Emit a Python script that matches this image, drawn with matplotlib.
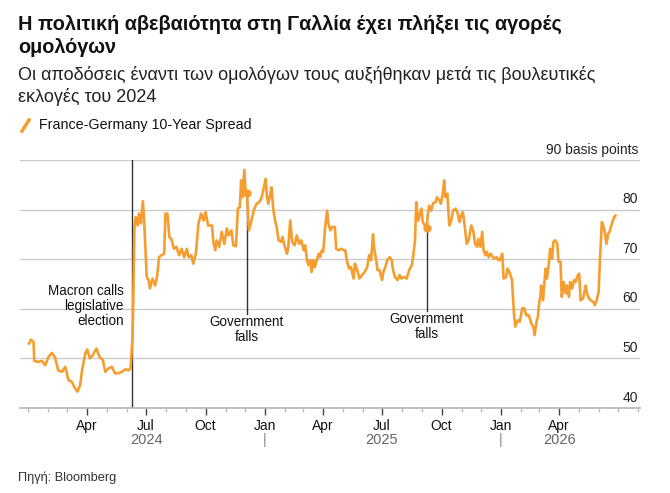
import numpy as np
import pandas as pd
import matplotlib
matplotlib.use('Agg')
import matplotlib.pyplot as plt
import matplotlib.dates as mdates
from matplotlib.lines import Line2D

plt.rcParams['font.family'] = ['Liberation Sans', 'DejaVu Sans']

# France-Germany 10-year spread, basis points
dates = [
    '2024-01-02', '2024-01-05', '2024-01-09', '2024-01-10', '2024-01-16', '2024-01-22', '2024-01-27',
    '2024-02-01', '2024-02-06', '2024-02-11', '2024-02-16', '2024-02-22', '2024-02-27',
    '2024-03-03', '2024-03-08', '2024-03-13', '2024-03-17', '2024-03-21', '2024-03-24', '2024-03-29',
    '2024-04-01', '2024-04-05', '2024-04-10', '2024-04-15', '2024-04-20', '2024-04-25', '2024-04-29',
    '2024-05-04', '2024-05-09', '2024-05-14', '2024-05-19', '2024-05-25', '2024-05-30',
    '2024-06-04', '2024-06-07', '2024-06-10', '2024-06-11', '2024-06-12', '2024-06-13', '2024-06-15',
    '2024-06-18', '2024-06-20', '2024-06-23', '2024-06-26', '2024-06-28',
    '2024-07-02', '2024-07-05', '2024-07-07', '2024-07-11', '2024-07-15', '2024-07-18', '2024-07-21',
    '2024-07-25', '2024-07-29', '2024-07-31',
    '2024-08-03', '2024-08-06', '2024-08-09', '2024-08-13', '2024-08-17', '2024-08-21', '2024-08-25',
    '2024-08-29',
    '2024-09-02', '2024-09-05', '2024-09-09', '2024-09-12', '2024-09-16', '2024-09-20', '2024-09-24',
    '2024-09-28',
    '2024-10-01', '2024-10-05', '2024-10-11', '2024-10-13', '2024-10-16', '2024-10-18', '2024-10-22',
    '2024-10-26', '2024-10-30',
    '2024-11-03', '2024-11-06', '2024-11-10', '2024-11-13', '2024-11-17', '2024-11-20', '2024-11-23',
    '2024-11-25', '2024-11-27', '2024-11-30',
    '2024-12-02', '2024-12-04', '2024-12-07', '2024-12-11', '2024-12-15', '2024-12-19', '2024-12-23',
    '2024-12-27', '2024-12-29',
    '2025-01-02', '2025-01-04', '2025-01-06', '2025-01-09', '2025-01-11', '2025-01-14', '2025-01-17',
    '2025-01-19', '2025-01-22', '2025-01-26', '2025-01-28', '2025-01-31',
    '2025-02-04', '2025-02-06', '2025-02-09', '2025-02-12', '2025-02-16', '2025-02-19', '2025-02-23',
    '2025-02-26',
    '2025-03-02', '2025-03-04', '2025-03-07', '2025-03-09', '2025-03-12', '2025-03-14', '2025-03-17',
    '2025-03-19', '2025-03-22', '2025-03-25', '2025-03-27', '2025-03-30',
    '2025-04-01', '2025-04-04', '2025-04-07', '2025-04-09', '2025-04-12', '2025-04-15', '2025-04-19',
    '2025-04-21', '2025-04-25', '2025-04-29',
    '2025-05-03', '2025-05-05', '2025-05-08', '2025-05-11', '2025-05-14', '2025-05-18', '2025-05-20',
    '2025-05-23', '2025-05-27', '2025-05-31',
    '2025-06-04', '2025-06-08', '2025-06-11', '2025-06-14', '2025-06-17', '2025-06-19', '2025-06-22',
    '2025-06-24', '2025-06-27',
    '2025-07-01', '2025-07-03', '2025-07-06', '2025-07-09', '2025-07-13', '2025-07-16', '2025-07-18',
    '2025-07-21', '2025-07-25', '2025-07-28', '2025-07-31',
    '2025-08-04', '2025-08-08', '2025-08-12', '2025-08-16', '2025-08-18', '2025-08-21', '2025-08-23',
    '2025-08-26', '2025-08-28', '2025-08-31',
    '2025-09-02', '2025-09-05', '2025-09-08', '2025-09-10', '2025-09-12', '2025-09-15', '2025-09-18',
    '2025-09-22', '2025-09-24', '2025-09-28', '2025-09-30',
    '2025-10-03', '2025-10-05', '2025-10-07', '2025-10-10', '2025-10-13', '2025-10-16', '2025-10-19',
    '2025-10-23', '2025-10-26', '2025-10-29', '2025-10-31',
    '2025-11-03', '2025-11-06', '2025-11-09', '2025-11-12', '2025-11-16', '2025-11-19', '2025-11-22',
    '2025-11-25', '2025-11-27', '2025-11-30',
    '2025-12-03', '2025-12-05', '2025-12-08', '2025-12-10', '2025-12-13', '2025-12-16', '2025-12-21',
    '2025-12-25', '2025-12-28', '2025-12-30',
    '2026-01-03', '2026-01-05', '2026-01-09', '2026-01-11', '2026-01-14', '2026-01-18', '2026-01-21',
    '2026-01-23', '2026-01-27', '2026-01-30',
    '2026-02-03', '2026-02-06', '2026-02-09', '2026-02-13', '2026-02-17', '2026-02-20', '2026-02-22',
    '2026-02-25', '2026-02-27',
    '2026-03-01', '2026-03-03', '2026-03-04', '2026-03-07', '2026-03-09', '2026-03-11', '2026-03-13',
    '2026-03-16', '2026-03-18', '2026-03-21', '2026-03-23', '2026-03-26', '2026-03-29', '2026-03-31',
    '2026-04-03', '2026-04-05', '2026-04-08', '2026-04-11', '2026-04-13', '2026-04-16', '2026-04-18',
    '2026-04-21', '2026-04-24', '2026-04-26', '2026-04-30',
    '2026-05-02', '2026-05-04', '2026-05-08', '2026-05-12', '2026-05-14', '2026-05-17', '2026-05-20',
    '2026-05-24', '2026-05-26', '2026-05-29',
    '2026-06-01', '2026-06-03', '2026-06-06', '2026-06-08', '2026-06-11', '2026-06-13', '2026-06-16',
    '2026-06-18', '2026-06-20', '2026-06-23', '2026-06-25', '2026-06-27',
]
spread = [
    53.0, 53.8, 53.3, 49.5, 49.3, 49.5, 48.6,
    50.3, 51.1, 50.3, 47.6, 47.3, 48.3,
    45.6, 45.3, 44.0, 43.3, 44.6, 47.6, 51.0,
    51.8, 50.0, 50.7, 52.0, 50.3, 49.7, 47.3,
    48.0, 48.3, 47.0, 47.0, 47.3, 47.8,
    47.6, 48.0, 54.0, 60.0, 68.0, 76.5, 78.5,
    76.8, 79.2, 77.2, 81.7, 77.8,
    66.4, 65.8, 64.1, 66.1, 64.7, 66.4, 70.4,
    70.8, 71.1, 79.2,
    79.2, 74.5, 74.1, 72.1, 72.5, 70.8, 72.1,
    70.4,
    72.1, 70.4, 70.8, 69.1, 71.1, 77.2, 79.2,
    77.8,
    79.5, 76.8, 76.8, 73.5, 71.8, 73.8, 72.5,
    75.5, 73.1,
    76.2, 74.8, 75.8, 72.8, 72.6, 80.2, 80.5,
    85.9, 82.5, 88.0,
    83.5, 83.3, 75.8, 77.8, 80.0, 81.2, 81.5,
    82.5, 83.8,
    86.2, 82.5, 81.2, 82.9, 84.5, 79.8, 77.5,
    76.5, 73.8, 73.5, 74.5, 72.8,
    71.1, 72.5, 77.8, 73.5, 72.8, 74.8, 73.1,
    73.8,
    71.8, 72.8, 69.8, 68.8, 69.8, 67.4, 69.8,
    68.4, 69.8, 71.1, 70.4, 71.8,
    71.5, 76.5, 79.8, 77.2, 75.8, 76.5, 76.5,
    72.1, 71.8, 72.1,
    71.8, 71.8, 69.5, 68.1, 68.4, 66.1, 69.1,
    68.1, 66.1, 66.8,
    67.4, 68.4, 70.8, 69.8, 75.0, 72.0, 69.8,
    67.8, 67.8,
    65.8, 67.4, 68.4, 69.8, 70.4, 69.8, 67.8,
    66.4, 65.8, 66.8, 66.1,
    66.4, 66.1, 67.8, 68.8, 70.4, 73.8, 81.5,
    77.8, 78.8, 80.2,
    77.5, 76.8, 76.3, 79.2, 80.8, 79.8, 81.3,
    81.5, 82.5, 81.8, 81.2,
    83.2, 85.9, 82.5, 83.2, 76.8, 77.8, 79.8,
    80.2, 79.2, 77.5, 78.8,
    79.5, 76.5, 73.1, 73.8, 76.8, 75.8, 73.1,
    72.5, 74.1, 72.5,
    75.5, 71.8, 70.8, 71.5, 70.4, 71.1, 70.1,
    70.4, 69.8, 69.8,
    71.1, 66.1, 66.4, 68.1, 67.4, 65.8, 59.1,
    56.4, 57.7, 57.4,
    60.1, 60.1, 58.7, 58.7, 57.0, 56.4, 54.7,
    57.4, 58.4,
    61.1, 62.7, 64.7, 61.7, 65.1, 68.1, 66.1,
    69.1, 72.1, 70.1, 73.5, 73.8, 73.1, 69.5,
    69.5, 62.4, 65.4, 63.1, 64.7, 62.4, 65.4,
    64.1, 65.8, 65.4, 66.8,
    67.1, 61.7, 62.1, 64.7, 63.1, 62.1, 61.7,
    61.4, 60.7, 61.7,
    63.4, 69.8, 77.5, 76.8, 75.2, 73.1, 75.2,
    75.5, 76.5, 77.8, 78.4, 78.8,
]

y_ticks = [40, 50, 60, 70, 80, 90]
month_ticks = ['2024-04-01', '2024-07-01', '2024-10-01', '2025-01-01', '2025-04-01',
               '2025-07-01', '2025-10-01', '2026-01-01', '2026-04-01']
year_labels = ['2024', '2025', '2026']
year_label_dates = ['2024-07-01', '2025-07-01', '2026-04-01']
year_breaks = ['2025-01-01', '2026-01-01']

macron_date = '2024-06-09'
gov_fall_dates = ['2024-12-04', '2025-09-08']

title_lines = ['Η πολιτική αβεβαιότητα στη Γαλλία έχει πλήξει τις αγορές', 'ομολόγων']
subtitle_lines = ['Οι αποδόσεις έναντι των ομολόγων τους αυξήθηκαν μετά τις βουλευτικές',
                  'εκλογές του 2024']

orange = '#f59e2f'
W, H = 670, 493

s = pd.Series(spread, index=pd.to_datetime(dates))

fig = plt.figure(figsize=(W / 100, H / 100), dpi=100)

def fx(px):
    return px / W

def fy(py):
    return 1 - py / H

ax = fig.add_axes([fx(20), fy(408), fx(640) - fx(20), fy(160) - fy(408)])
ax.set_xlim(pd.Timestamp('2023-12-19'), pd.Timestamp('2026-08-04'))
ax.set_ylim(40, 90)

# gridlines + right-hand labels sitting on top of them
for v in y_ticks[1:]:
    ax.axhline(v, color='#cccccc', lw=1, zorder=0)
for v in y_ticks:
    lab = '90 basis points' if v == 90 else str(v)
    ax.text(0.9968, v + 0.7, lab, transform=ax.get_yaxis_transform(),
            ha='right', va='bottom', fontsize=10, color='#222222')

ax.plot(s.index, s.values, color=orange, lw=1.9, zorder=3, solid_joinstyle='round')

# events
ax.axvline(pd.Timestamp(macron_date), ymin=0, ymax=1, color='#333333', lw=1, zorder=2)
ax.annotate('Macron calls\nlegislative\nelection', xy=(pd.Timestamp(macron_date), 64.9),
            xytext=(-6, 0), textcoords='offset points', ha='right', va='top',
            fontsize=9.75, linespacing=1.05, color='#111111')

gov_bottoms = [59.0, 59.6]
for d, bottom in zip(gov_fall_dates, gov_bottoms):
    t = pd.Timestamp(d)
    val = s.loc[t]
    ax.plot([t, t], [bottom, val], color='#333333', lw=1, zorder=2)
    ax.plot([t], [val], 'o', color=orange, ms=5, zorder=4)
    ax.annotate('Government\nfalls', xy=(t, bottom), xytext=(0, -1), textcoords='offset points',
                ha='center', va='top', fontsize=9.75, linespacing=1.05, color='#111111')

# axes styling
for sp in ['top', 'right', 'left']:
    ax.spines[sp].set_visible(False)
ax.spines['bottom'].set_color('#b5b5b5')
ax.spines['bottom'].set_linewidth(1.2)
ax.set_yticks([])

ax.set_xticks(pd.to_datetime(month_ticks))
ax.xaxis.set_major_formatter(mdates.DateFormatter('%b'))
ax.xaxis.set_minor_locator(mdates.MonthLocator())
ax.tick_params(axis='x', which='major', length=5, width=1, color='#444444',
               labelsize=10, pad=3, labelcolor='#111111')
ax.tick_params(axis='x', which='minor', length=3, width=1, color='#bbbbbb')

xt = ax.get_xaxis_transform()
for lab, d in zip(year_labels, year_label_dates):
    ax.text(pd.Timestamp(d), -0.128, lab, transform=xt, ha='center', va='center',
            fontsize=10.5, color='#666666')
for d in year_breaks:
    ax.text(pd.Timestamp(d), -0.128, '|', transform=xt, ha='center', va='center',
            fontsize=10.5, color='#888888')

# header
for i, line in enumerate(title_lines):
    fig.text(fx(18), fy(29.5 + 23.3 * i), line, ha='left', va='baseline',
             fontsize=14.3, fontweight='bold', color='#111111')
for i, line in enumerate(subtitle_lines):
    fig.text(fx(18), fy(80 + 21.7 * i), line, ha='left', va='baseline',
             fontsize=13.0, color='#222222')
fig.add_artist(Line2D([fx(22), fx(29)], [fy(131), fy(120)], color=orange, lw=2.5,
                      transform=fig.transFigure))
fig.text(fx(39), fy(128.5), 'France-Germany 10-Year Spread', ha='left', va='baseline',
         fontsize=10.3, color='#111111')

fig.text(fx(18), fy(481), 'Πηγή: Bloomberg', ha='left', va='baseline', fontsize=9.2, color='#333333')

fig.savefig('out.png', dpi=100)
